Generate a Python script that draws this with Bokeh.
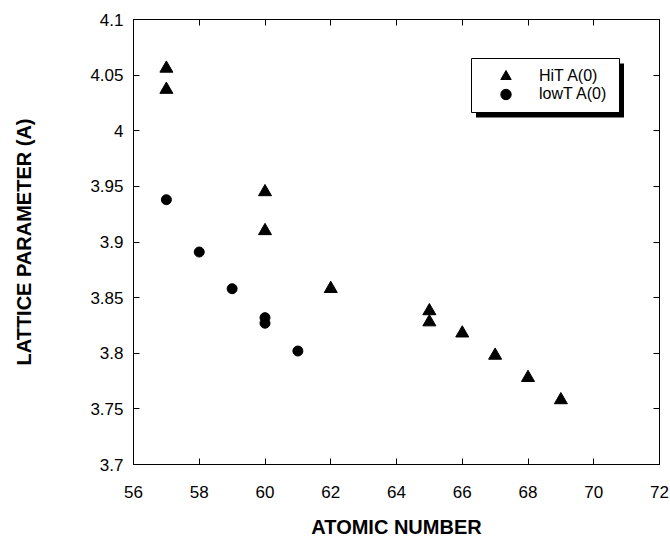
from bokeh.plotting import figure
from bokeh.models import (FixedTicker, Legend, LegendItem, LinearAxis, Range1d,
                          CustomJSTickFormatter, ColumnDataSource, BoxAnnotation)
from bokeh.embed import file_html
from bokeh.resources import INLINE

# ---- data ----
hit_z = [57, 57, 60, 60, 62, 65, 65, 66, 67, 68, 69]
hit_a = [4.056, 4.037, 3.945, 3.910, 3.858, 3.838, 3.828, 3.818, 3.798, 3.778, 3.758]
low_z = [57, 58, 59, 60, 60, 61]
low_a = [3.938, 3.891, 3.858, 3.832, 3.827, 3.802]

x_ticks = [56, 58, 60, 62, 64, 66, 68, 70, 72]
x_tick_labels = ["56", "58", "60", "62", "64", "66", "68", "70", "72"]
y_ticks = [3.7, 3.75, 3.8, 3.85, 3.9, 3.95, 4.0, 4.05, 4.1]
y_tick_labels = ["3.7", "3.75", "3.8", "3.85", "3.9", "3.95", "4", "4.05", "4.1"]

series_names = ["HiT A(0)", "lowT A(0)"]

FONT = "Liberation Sans"

p = figure(frame_width=526, frame_height=445, output_backend="svg",
           toolbar_location=None,
           x_range=Range1d(56, 72), y_range=Range1d(3.7, 4.1),
           min_border_left=133, min_border_right=11, min_border_top=19,
           min_border_bottom=75)
p.grid.visible = False
p.outline_line_color = "black"
p.outline_line_width = 1
p.background_fill_color = "white"
p.border_fill_color = "white"

src_hit = ColumnDataSource(dict(x=hit_z, y=hit_a))
src_low = ColumnDataSource(dict(x=low_z, y=low_a))
r_hit = p.scatter("x", "y", source=src_hit, marker="triangle", size=13,
                  fill_color="black", line_color="black")
r_low = p.scatter("x", "y", source=src_low, marker="circle", size=10,
                  fill_color="black", line_color="black")

# main axes
xa = p.xaxis[0]
ya = p.yaxis[0]
xa.ticker = FixedTicker(ticks=x_ticks)
ya.ticker = FixedTicker(ticks=y_ticks)
xa.major_label_overrides = {t: l for t, l in zip(x_ticks, x_tick_labels)}
ya.major_label_overrides = {t: l for t, l in zip(y_ticks, y_tick_labels)}
for ax in (xa, ya):
    ax.major_tick_in = 6
    ax.major_tick_out = 0
    ax.minor_tick_line_color = None
    ax.major_tick_line_color = "black"
    ax.axis_line_color = "black"
    ax.major_label_text_font = FONT
    ax.major_label_text_font_size = "17px"
    ax.major_label_text_color = "black"
    ax.axis_label_text_font = FONT
    ax.axis_label_text_font_style = "bold"
    ax.axis_label_text_font_size = "20px"
    ax.axis_label_text_color = "black"
xa.major_label_standoff = 21
ya.major_label_standoff = 10
xa.axis_label = "ATOMIC NUMBER"
ya.axis_label = "LATTICE PARAMETER (A)"
xa.axis_label_standoff = 15
ya.axis_label_standoff = 52

# mirrored tick axes (top and right), no labels
blank = CustomJSTickFormatter(code="return ''")
top = LinearAxis(ticker=FixedTicker(ticks=x_ticks), formatter=blank)
right = LinearAxis(ticker=FixedTicker(ticks=y_ticks), formatter=blank)
for ax in (top, right):
    ax.major_tick_in = 6
    ax.major_tick_out = 0
    ax.minor_tick_line_color = None
    ax.major_tick_line_color = "black"
    ax.axis_line_color = "black"
    ax.major_label_standoff = 0
    ax.major_label_text_font_size = "1px"
p.add_layout(top, "above")
p.add_layout(right, "right")

# legend frame (frame-relative pixels) with a drop shadow
LX, LY, LW, LH = 338, 352, 148, 54
box_kw = dict(left_units="screen", right_units="screen",
              top_units="screen", bottom_units="screen")
shadow = BoxAnnotation(left=LX + 4.5, right=LX + LW + 4.5,
                       bottom=LY - 5, top=LY + LH - 5,
                       fill_color="black", fill_alpha=1, line_color=None, **box_kw)
frame_box = BoxAnnotation(left=LX, right=LX + LW, bottom=LY, top=LY + LH,
                          fill_color="white", fill_alpha=1, line_color="black",
                          line_alpha=1, line_width=1, **box_kw)
p.add_layout(shadow)
p.add_layout(frame_box)

# one legend per entry so that row pitch and marker size are independent
ROW_H = 26
row_offsets = [18, 35.5]          # row centres below the box top, pixels
for name, rend, off in zip(series_names, [r_hit, r_low], row_offsets):
    bottom = LY + LH - off - ROW_H / 2
    lg = Legend(items=[LegendItem(label=name, renderers=[rend])],
                location=(LX + 5, bottom))
    lg.margin = 0
    lg.padding = 0
    lg.spacing = 0
    lg.glyph_width = 59
    lg.glyph_height = ROW_H
    lg.label_height = ROW_H
    lg.label_width = 60
    lg.label_standoff = 4
    lg.label_text_font = FONT
    lg.label_text_font_size = "16px"
    lg.label_text_color = "black"
    lg.background_fill_alpha = 0
    lg.border_line_color = None
    p.add_layout(lg)

open("out.html", "w").write(file_html(p, INLINE))
